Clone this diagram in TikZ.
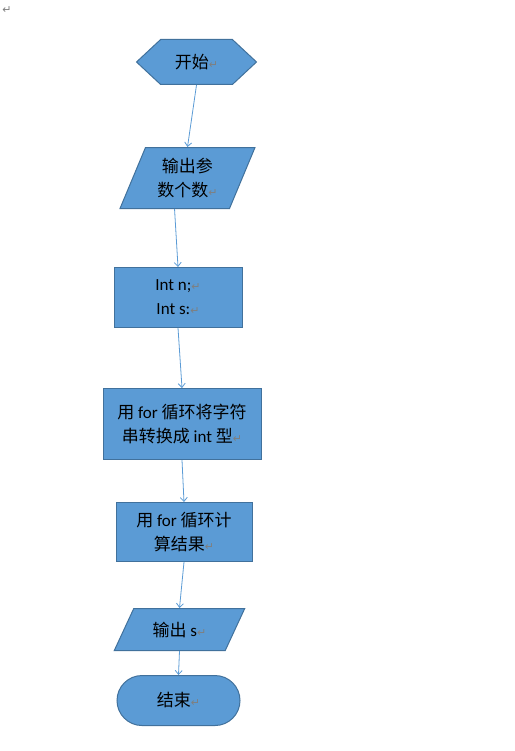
\documentclass[tikz,border=0pt]{standalone}
\usepackage{fontspec}
\setmainfont{Carlito}
\newfontfamily\cjk{Noto Sans CJK SC}
\newfontfamily\symfont{DejaVu Sans}
\usetikzlibrary{positioning,shapes.geometric,shapes.symbols,arrows.meta}
\definecolor{boxfill}{HTML}{5B9BD5}
\definecolor{boxline}{HTML}{41719C}
\definecolor{markgray}{HTML}{7F7F7F}
\newcommand{\pmark}{{\symfont\fontsize{11}{11}\selectfont\color{markgray}↵}}

\begin{document}
\begin{tikzpicture}[
    x=1pt,
    y=1pt,
    font=\fontsize{17}{24}\selectfont,
    base/.style={
        draw=boxline,
        fill=boxfill,
        line width=1pt,
        text=black,
        align=center,
        inner sep=2pt
    },
    terminal/.style={
        base,
        signal,
        signal to=west and east,
        signal pointer angle=86,
        minimum width=120pt,
        minimum height=45pt
    },
    process/.style={
        base,
        rectangle
    },
    io/.style={
        base,
        trapezium,
        trapezium stretches=true
    },
    stopbox/.style={
        base,
        rectangle,
        rounded corners=25pt,
        minimum width=123pt,
        minimum height=50pt
    },
    flow/.style={
        draw=boxfill,
        line width=0.8pt,
        -{Straight Barb[length=4pt,width=7pt]}
    }
]
    \useasboundingbox (0,0) rectangle (514,-751);

    % Components
    \node [inner sep=0pt] (mark) at (7,-10) {\pmark};
    \node [terminal] (start) at (196.5,-62) {{\cjk 开始}\pmark};
    \node [io, trapezium left angle=66, trapezium right angle=114, minimum width=135pt, minimum height=61pt, below=62pt of start, xshift=-9pt] (inparam) {{\cjk 输出参}\\{\cjk 数个数}\pmark};
    \node [process, minimum width=128pt, minimum height=60pt, below=58pt of inparam, xshift=-9.5pt] (decl) {Int n;\pmark\\Int s:\pmark};
    \node [process, minimum width=158pt, minimum height=71pt, below=60pt of decl, xshift=4pt] (convert) {{\cjk 用} for {\cjk 循环将字符}\\{\cjk 串转换成} int {\cjk 型}\pmark};
    \node [process, minimum width=136pt, minimum height=59pt, below=42pt of convert, xshift=2pt] (compute) {{\cjk 用} for {\cjk 循环计}\\{\cjk 算结果}\pmark};
    \node [io, trapezium left angle=58, trapezium right angle=122, minimum width=131pt, minimum height=42pt, below=46pt of compute, xshift=-4.5pt] (outs) {{\cjk 输出} s\pmark};
    \node [stopbox, below=24pt of outs, xshift=-1pt] (stop) {{\cjk 结束}\pmark};

    % Flow Connections
    \path [flow] (start.south) -- (inparam.north);
    \path [flow] (inparam.bottom side) -- (decl.north);
    \path [flow] (decl.south) -- (convert.north);
    \path [flow] (convert.south) -- (compute.north);
    \path [flow] (compute.south) -- (outs.north);
    \path [flow] (outs.south) -- (stop.north);
\end{tikzpicture}
\end{document}
